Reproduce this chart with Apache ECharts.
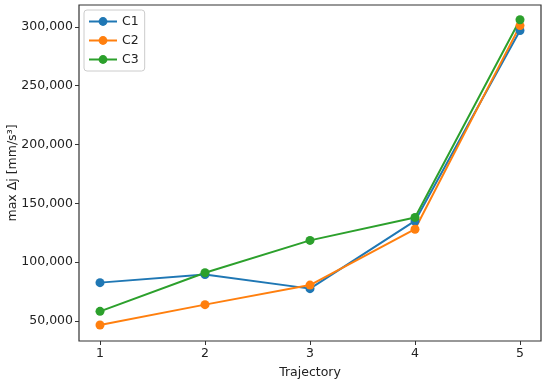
<!DOCTYPE html>
<html><head><meta charset="utf-8">
<script src="https://cdn.jsdelivr.net/npm/echarts@6/dist/echarts.min.js"></script>
<style>html,body{margin:0;padding:0;background:#fff}#c{width:550px;height:384px}</style>
</head><body><div id="c"></div>
<script>
const trajectories = [1, 2, 3, 4, 5];
const c1 = [82600, 89500, 77500, 135000, 296800];
const c2 = [46600, 63900, 80500, 128000, 301000];
const c3 = [58200, 91000, 118500, 138000, 306000];
const yTicks = [50000, 100000, 150000, 200000, 250000, 300000];
const xTicks = [1, 2, 3, 4, 5];
const seriesNames = ['C1', 'C2', 'C3'];
const colors = ['#1f77b4', '#ff7f0e', '#2ca02c'];
const font = 'DejaVu Sans';
const chart = echarts.init(document.getElementById('c'));
const mk = (name, vals, color) => ({
  name, type: 'line', data: trajectories.map((t, i) => [t, vals[i]]),
  symbol: 'circle', symbolSize: 9, showSymbol: true,
  lineStyle: {width: 2, color}, itemStyle: {color}, animation: false, z: 3
});
chart.setOption({
  animation: false,
  textStyle: {fontFamily: font},
  grid: {left: 79, right: 9, top: 5, bottom: 43, outerBoundsMode: 'none', containLabel: false,
    show: true, borderColor: '#333', borderWidth: 1.2, backgroundColor: 'transparent'},
  legend: {
    left: 84, top: 10, orient: 'vertical', itemGap: 6, itemWidth: 28, itemHeight: 11,
    data: seriesNames, textStyle: {fontFamily: font, fontSize: 12.5, color: '#222'},
    borderColor: '#ccc', borderWidth: 1, borderRadius: 3, padding: [5, 6, 5, 4],
    backgroundColor: 'rgba(255,255,255,0.8)'
  },
  xAxis: {
    type: 'value', min: 0.8, max: 5.2,
    name: 'Trajectory', nameLocation: 'middle', nameGap: 25, nameMoveOverlap: false,
    nameTextStyle: {fontFamily: font, fontSize: 12.5, color: '#222'},
    axisLine: {show: false},
    axisTick: {show: true, customValues: xTicks, length: 4, inside: false, lineStyle: {color: '#333'}},
    axisLabel: {customValues: xTicks, fontFamily: font, fontSize: 12.5, color: '#222', margin: 6},
    splitLine: {show: false}
  },
  yAxis: {
    type: 'value', min: 33000, max: 318500,
    name: 'max Δj [mm/s³]', nameLocation: 'middle', nameGap: 60, nameRotate: 90, nameMoveOverlap: false,
    nameTextStyle: {fontFamily: font, fontSize: 12.5, color: '#222'},
    axisLine: {show: false},
    axisTick: {show: true, customValues: yTicks, length: 4, lineStyle: {color: '#333'}},
    axisLabel: {customValues: yTicks, fontFamily: font, fontSize: 12.5, color: '#222', margin: 6,
      formatter: v => v.toLocaleString('en-US')},
    splitLine: {show: false}
  },
  series: [mk('C1', c1, colors[0]), mk('C2', c2, colors[1]), mk('C3', c3, colors[2])]
});
</script></body></html>
